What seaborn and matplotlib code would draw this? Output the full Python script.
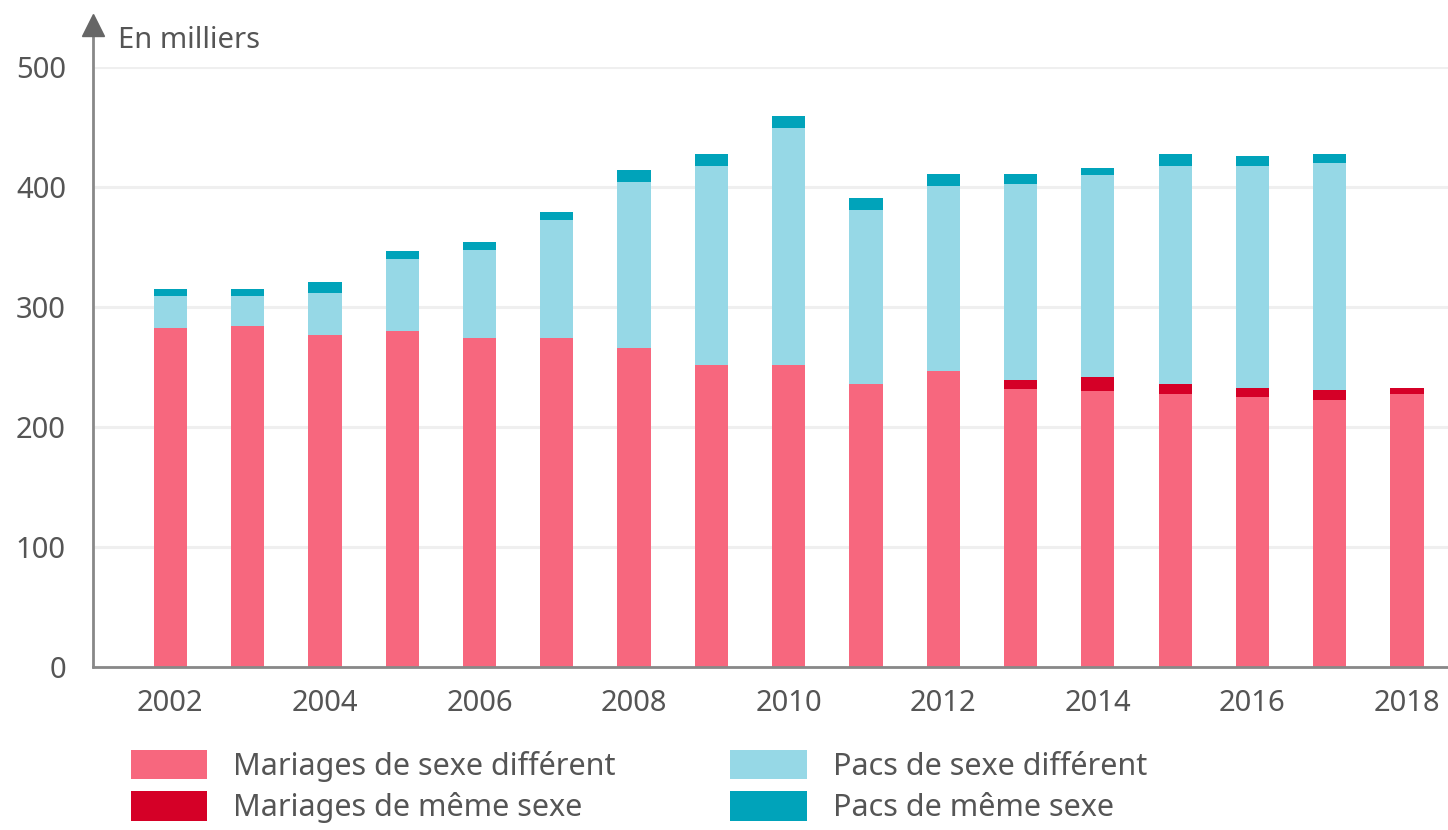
import numpy as np
import pandas as pd
import seaborn as sns

from matplotlib import pyplot as plt
from matplotlib.patches import Patch

# En milliers
years = list(range(2002, 2019))
mar_diff = [283, 284, 277, 280, 274, 274, 266, 252, 252, 236, 247, 232, 230, 228, 225, 223, 228]
mar_same = [0, 0, 0, 0, 0, 0, 0, 0, 0, 0, 0, 7, 12, 8, 8, 8, 5]
pacs_diff = [26, 25, 35, 60, 74, 99, 138, 166, 197, 145, 154, 164, 168, 182, 185, 189, 0]
pacs_same = [6, 6, 9, 7, 6, 6, 10, 10, 10, 10, 10, 8, 6, 10, 8, 8, 0]

labels = ["Mariages de sexe différent", "Mariages de même sexe",
          "Pacs de sexe différent", "Pacs de même sexe"]
colors = ["#F7677E", "#D50027", "#96D8E6", "#00A3BA"]

df = pd.DataFrame({"annee": [str(y) for y in years]})
df["c1"] = np.array(mar_diff)
df["c2"] = df["c1"] + np.array(mar_same)
df["c3"] = df["c2"] + np.array(pacs_diff)
df["c4"] = df["c3"] + np.array(pacs_same)

sns.set_style("white")
plt.rcParams["font.family"] = ["Noto Sans", "DejaVu Sans"]

grey = "#888888"
txt = "#555555"
fs = 21

fig = plt.figure(figsize=(14.48, 8.3), dpi=100)
ax = fig.add_axes([93 / 1448, 1 - 667.3 / 830, 1 - 93 / 1448, 600 / 830])

# stacked bars: draw cumulative totals from the top down
for col, c in zip(["c4", "c3", "c2", "c1"], colors[::-1]):
    sns.barplot(data=df, x="annee", y=col, color=c, width=0.43, saturation=1,
                linewidth=0, ax=ax)

ax.set_xlim(-1.0, 16.53)
ax.set_ylim(0, 500)
ax.set_yticks([0, 100, 200, 300, 400, 500])
ax.set_xticks(range(len(years)))
ax.set_xticklabels([str(y) if y % 2 == 0 else "" for y in years])
ax.set_xlabel("")
ax.set_ylabel("")

ax.set_axisbelow(True)
ax.yaxis.grid(True, color="#EFEFEF", linewidth=2.2)
ax.xaxis.grid(False)

for s in ["top", "right", "left"]:
    ax.spines[s].set_visible(False)
ax.spines["bottom"].set_color(grey)
ax.spines["bottom"].set_linewidth(2)

ax.tick_params(axis="x", length=9.5, width=1.5, color=grey, pad=6, labelsize=fs, labelcolor=txt)
ax.tick_params(axis="y", length=11.5, width=1.5, color=grey, pad=8, labelsize=fs, labelcolor=txt)

# axe vertical avec flèche
ax.plot([0, 0], [0, 1.07], transform=ax.transAxes, color=grey, lw=2, clip_on=False, zorder=5)
ax.plot([0], [1.07], transform=ax.transAxes, marker="^", markersize=16, color="#666666",
        clip_on=False, zorder=6)

fig.text(118 / 1448, 1 - 41 / 830, "En milliers", fontsize=fs, color=txt, va="center", ha="left")

handles = [Patch(facecolor=c, edgecolor="none") for c in colors]
fig.legend(handles, labels, ncol=2, loc="upper left", bbox_to_anchor=(131 / 1448, 1 - 750 / 830),
           frameon=False, fontsize=fs + 1, labelcolor=txt, handlelength=2.5, handleheight=1.1,
           handletextpad=0.85, columnspacing=3.75, labelspacing=0.3, borderpad=0, borderaxespad=0)

plt.savefig("out.png", dpi=100)
